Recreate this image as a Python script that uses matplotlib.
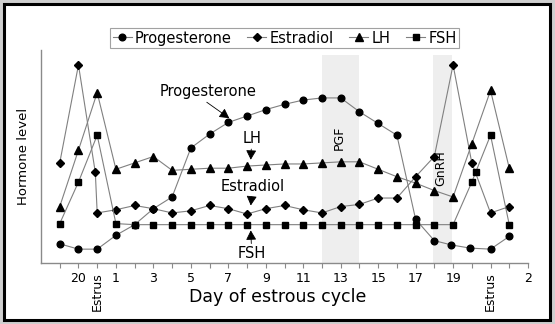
import numpy as np
import matplotlib
matplotlib.use("Agg")
import matplotlib.pyplot as plt
from matplotlib.patches import Rectangle

# x positions are day slots: 0 = day 19, 1 = day 20, 2 = estrus, 3 = day 1 ...
prog_x = list(range(0, 21)) + [20.9, 21.9, 23, 24]
progesterone = [9, 6.5, 6.5, 13, 18, 25.5, 31, 54, 60.5, 66, 69, 72, 74.5, 76.5,
                77.5, 77.5, 71, 65.5, 60, 20.5, 10.5, 8.5, 7, 6.5, 12.5]

estr_x = [0, 1, 1.9] + list(range(2, 25))
estradiol = [47, 93, 42.5, 23.5, 25, 27, 25.5, 23.5, 24.5, 27, 25.5, 23, 25.5, 27,
             25, 23.5, 26.5, 27.5, 30.5, 30.5, 40.5, 50, 93, 47, 23.5, 26.5]

lh_x = list(range(0, 25))
lh = [26.5, 53, 80, 44, 47, 50, 43.5, 44, 44.5, 44.5, 45.5, 46, 46.5, 46.5, 47,
      47.5, 47.5, 44, 40.5, 37.5, 34, 31, 56, 81, 44.5]

fsh_x = list(range(0, 23)) + [22.2, 23, 24]
fsh = [18.5, 38, 60, 18.5] + [18] * 18 + [38, 42.5, 60, 18]

tick_pos = list(range(0, 26))
tick_labels = ['', '20', 'Estrus', '1', '', '3', '', '5', '', '7', '', '9', '', '11',
               '', '13', '', '15', '', '17', '', '19', '', 'Estrus', '', '2']

pgf_span = (14, 16)
gnrh_span = (19.95, 20.95)


def main():
    fig = plt.figure(figsize=(5.55, 3.24), dpi=100)
    fig.patch.set_facecolor('#cfcfcf')
    fig.add_artist(Rectangle((3.5 / 555, 4 / 324), 546.5 / 555, 316 / 324,
                             transform=fig.transFigure, facecolor='white',
                             edgecolor='black', linewidth=2.2, zorder=-10))

    ax = fig.add_axes([41 / 555, 61 / 324, 487 / 555, 213 / 324])
    ax.set_facecolor('none')

    # treatment windows
    ax.axvspan(*pgf_span, ymax=0.977, color='#eeeeee', lw=0, zorder=0)
    ax.axvspan(*gnrh_span, ymax=0.977, color='#eeeeee', lw=0, zorder=0)

    line_kw = dict(color='#808080', lw=0.8, markerfacecolor='black',
                   markeredgecolor='black')
    ax.plot(prog_x, progesterone, marker='o', ms=4.8, label='Progesterone', **line_kw)
    ax.plot(estr_x, estradiol, marker='D', ms=3.8, label='Estradiol', **line_kw)
    ax.plot(lh_x, lh, marker='^', ms=6, label='LH', **line_kw)
    ax.plot(fsh_x, fsh, marker='s', ms=4.4, label='FSH', **line_kw)

    ax.text(14.92, 59, 'PGF', rotation=90, ha='center', va='center', fontsize=9)
    ax.text(20.35, 44.5, 'GnRH', rotation=90, ha='center', va='center', fontsize=9)

    arrow = dict(arrowstyle='-|>,head_length=0.55,head_width=0.3', color='black',
                 lw=0.6, shrinkA=0, shrinkB=0)
    ax.annotate('Progesterone', xy=(9.05, 68), xytext=(7.9, 80.3), fontsize=10.5,
                ha='center', va='center', arrowprops=dict(arrow, relpos=(0.45, 0)))
    ax.annotate('LH', xy=(10.2, 48.5), xytext=(10.25, 58.3), fontsize=10.5,
                ha='center', va='center', arrowprops=arrow)
    ax.annotate('Estradiol', xy=(10.2, 27), xytext=(10.3, 35.8), fontsize=10.5,
                ha='center', va='center', arrowprops=arrow)
    ax.annotate('FSH', xy=(10.2, 15.3), xytext=(10.25, 4.3), fontsize=10.5,
                ha='center', va='center', arrowprops=arrow)

    ax.set_xlim(-1, 25)
    ax.set_ylim(0, 100)
    ax.set_xticks(tick_pos)
    ax.set_xticklabels(tick_labels, fontsize=9)
    for lab in ax.get_xticklabels():
        if lab.get_text() == 'Estrus':
            lab.set_rotation(90)
    ax.set_yticks([])
    ax.tick_params(axis='x', length=3.5, width=0.8, color='#8a8a8a', pad=3)
    for side in ['top', 'right']:
        ax.spines[side].set_visible(False)
    for side in ['left', 'bottom']:
        ax.spines[side].set_color('#8a8a8a')
        ax.spines[side].set_linewidth(1.0)

    ax.set_xlabel('Day of estrous cycle', fontsize=12.5)
    ax.xaxis.set_label_coords(0.487, -0.16)
    ax.xaxis.label.set_va('center')
    ax.set_ylabel('Hormone level', fontsize=9.5, labelpad=8)

    leg = ax.legend(loc='center', bbox_to_anchor=(0.5, 1.056), ncol=4, fontsize=10.5,
                    frameon=True, fancybox=False, handlelength=1.3, handletextpad=0.2,
                    columnspacing=1.1, borderpad=0.15, borderaxespad=0)
    leg.get_frame().set_edgecolor('#8a8a8a')
    leg.get_frame().set_linewidth(0.8)

    fig.savefig('out.png', dpi=100, facecolor=fig.get_facecolor())


if __name__ == "__main__":
    main()
